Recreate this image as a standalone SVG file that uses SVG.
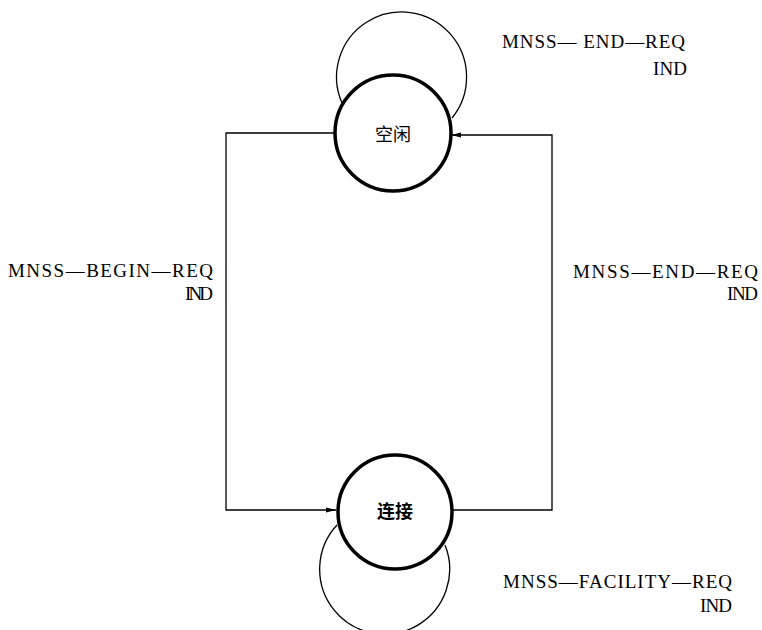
<svg xmlns="http://www.w3.org/2000/svg" width="762" height="630" viewBox="0 0 762 630">
<defs>
<style>
.state{fill:#fff;stroke:#000;stroke-width:3.5}
.loop{fill:none;stroke:#000;stroke-width:1.3}
.wire{fill:none;stroke:#000;stroke-width:1.3}
.lbl{font-family:"Liberation Serif","Times New Roman",serif;font-size:19px;fill:#000}
.cn{font-family:"Noto Sans CJK SC","Noto Sans",sans-serif;font-size:18px;fill:#000;text-anchor:middle;dominant-baseline:central}
</style>
<marker id="arr" viewBox="0 0 10 6" refX="10" refY="3" markerWidth="10" markerHeight="6" markerUnits="userSpaceOnUse" orient="auto">
<path d="M0,0.5 L10,3 L0,5.5 z" fill="#000"/>
</marker>
</defs>
<rect width="762" height="630" fill="#fff"/>
<g id="connectors">
<path class="loop" d="M342,103 A65,65 0 1 1 452,118"/>
<path class="loop" d="M337,525 A65,65 0 1 0 445,545"/>
<path class="wire" d="M336,133 H226 V510 H336" marker-end="url(#arr)"/>
<path class="wire" d="M453,510 H552 V135 H451" marker-end="url(#arr)"/>
</g>
<g id="node-idle">
<circle class="state" cx="393" cy="133" r="58"/>
<text class="cn" x="393" y="133">空闲</text>
</g>
<g id="node-connect">
<circle class="state" cx="395" cy="512" r="57"/>
<text class="cn" x="395" y="510" font-weight="bold">连接</text>
</g>
<g id="labels">
<text class="lbl" x="502" y="48" textLength="183" lengthAdjust="spacing">MNSS— END—REQ</text>
<text class="lbl" x="653" y="75" textLength="34" lengthAdjust="spacing">IND</text>
<text class="lbl" x="8" y="277" textLength="205" lengthAdjust="spacing">MNSS—BEGIN—REQ</text>
<text class="lbl" x="185" y="300" textLength="28" lengthAdjust="spacing">IND</text>
<text class="lbl" x="573" y="278" textLength="185" lengthAdjust="spacing">MNSS—END—REQ</text>
<text class="lbl" x="727" y="300" textLength="31" lengthAdjust="spacing">IND</text>
<text class="lbl" x="503" y="588" textLength="229" lengthAdjust="spacing">MNSS—FACILITY—REQ</text>
<text class="lbl" x="700" y="612" textLength="32" lengthAdjust="spacing">IND</text>
</g>
</svg>
